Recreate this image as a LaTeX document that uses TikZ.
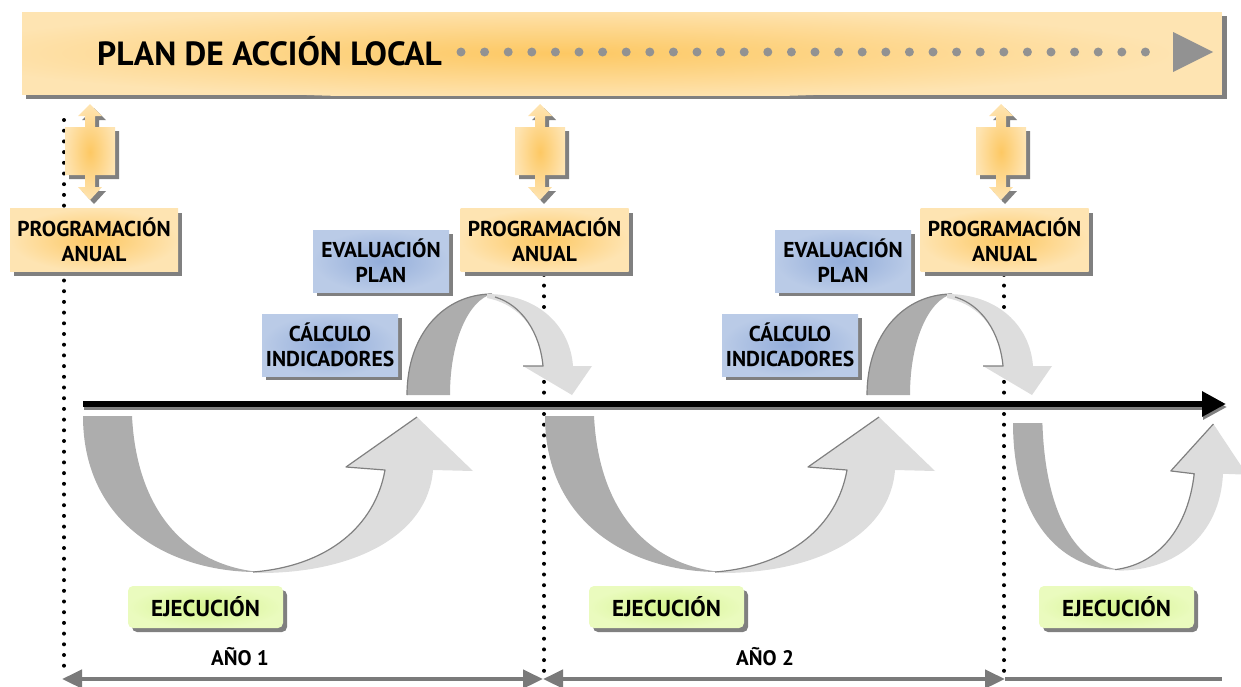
\documentclass[tikz,border=0pt]{standalone}
\usepackage{fontspec}
\setmainfont{PT Sans}
\usetikzlibrary{arrows.meta,shadows}

\definecolor{bannerlight}{HTML}{FEE4B2}
\definecolor{orangecore}{HTML}{FDC863}
\definecolor{bluelight}{HTML}{BACBE7}
\definecolor{bluecore}{HTML}{93ADDA}
\definecolor{greenlight}{HTML}{EAFBBE}
\definecolor{greencore}{HTML}{D5F48F}
\definecolor{shadowgray}{HTML}{808080}
\definecolor{ribbondark}{HTML}{ADADAD}
\definecolor{ribbonlight}{HTML}{DDDDDD}
\definecolor{dotgray}{HTML}{929292}
\definecolor{spangray}{HTML}{7A7A7A}

\tikzset{
  boxtext/.style={font=\fontsize{21.5}{25}\selectfont\bfseries, align=center, inner sep=0pt},
  boxshadow/.style={drop shadow={shadow xshift=4pt, shadow yshift=-4pt, fill=shadowgray, opacity=1}},
  progbox/.style={boxtext, boxshadow, shade, inner color=orangecore, outer color=bannerlight,
    minimum width=168pt, minimum height=63pt},
  evalbox/.style={boxtext, boxshadow, shade, inner color=bluecore, outer color=bluelight,
    minimum width=136pt, minimum height=62pt},
  ejecbox/.style={boxtext, boxshadow, shade, inner color=greencore, outer color=greenlight,
    minimum width=155pt, minimum height=42pt, rounded corners=5pt, font=\fontsize{23}{26}\selectfont\bfseries},
  yeartext/.style={boxtext, font=\fontsize{21}{24}\selectfont\bfseries},
  vdots/.style={line width=4pt, line cap=round, dash pattern=on 0pt off 10.7pt},
  spanline/.style={draw=spangray, line width=4.5pt},
  ribbonedge/.style={draw=shadowgray, line width=1.2pt},
  % lower U-shaped ribbon arrow (origin = outer top left)
  lowribbon/.pic={
    \fill[ribbondark] (0,0) -- (49,0) .. controls (54,100) and (108,150) .. (177,156)
      .. controls (90,157) and (0,110) .. (0,0) -- cycle;
    \fill[ribbonlight] (170,156) .. controls (245,150) and (292,110) .. (302,54) -- (263,51)
      -- (334,1) -- (390,55) -- (350,54) .. controls (345,120) and (270,157) .. (177,157) -- cycle;
    \draw[ribbonedge] (170,156) .. controls (245,150) and (292,110) .. (302,54) -- (263,51) -- (334,1);
  },
  % upper arc ribbon arrow (origin = outer bottom left)
  upribbon/.pic={
    \fill[ribbondark] (0,0) .. controls (0,-62) and (38,-101) .. (85,-101)
      .. controls (62,-95) and (43,-55) .. (43,0) -- cycle;
    \draw[ribbonedge] (0,0) .. controls (0,-62) and (38,-101) .. (85,-101);
    \fill[ribbonlight] (80,-101) .. controls (130,-101) and (163,-70) .. (166,-29) -- (185,-29)
      -- (165,0) -- (116,-29) -- (136,-29) .. controls (133,-62) and (115,-90) .. (80,-97) -- cycle;
    \draw[ribbonedge] (116,-29) -- (136,-29) .. controls (133,-62) and (115,-90) .. (88,-98);
  },
}

\begin{document}
\begin{tikzpicture}[x=1pt, y=-1pt, line join=round]
  \useasboundingbox (0,0) rectangle (1241,686);

  % Banner corners
  \coordinate (BA) at (22,12);
  \coordinate (BB) at (1222,95);

  % Banner with shadow and orange glow
  \fill[shadowgray] (26,16) rectangle (1227,99);
  \fill[bannerlight] (BA) rectangle (BB);
  \begin{scope}
    \clip (BA) rectangle (BB);
    \shade[inner color=orangecore, outer color=bannerlight] (560,53) ellipse [x radius=620, y radius=46];
  \end{scope}

  % Title and dotted arrow
  \node[font=\fontsize{33.5}{38}\selectfont\bfseries, anchor=west, inner sep=0pt] (title) at (97,51) {PLAN DE ACCIÓN LOCAL};
  \coordinate (dots start) at (461,52);
  \coordinate (dots end) at (1168,52);
  \draw[dotgray, line width=9pt, line cap=round, dash pattern=on 0pt off 23.6pt] (dots start) -- (dots end);
  \fill[dotgray] (1173,32) -- (1213,52) -- (1173,72) -- cycle;

  % Year boundaries (dotted)
  \coordinate (Y0 top) at (64,120);
  \coordinate (Y0 bot) at (64,676);
  \coordinate (Y1 top) at (544,200);
  \coordinate (Y1 bot) at (544,676);
  \coordinate (Y2 top) at (1004,200);
  \coordinate (Y2 bot) at (1004,676);
  \draw[vdots] (Y0 top) -- (Y0 bot);
  \draw[vdots] (Y1 top) -- (Y1 bot);
  \draw[vdots] (Y2 top) -- (Y2 bot);

  % Double arrows below the banner
  \foreach \cx in {90,540,1001} {
    \begin{scope}[shift={(\cx,0)}]
      \fill[shadowgray] (4,108) -- (16,120) -- (9,120) -- (9,131) -- (29,131) -- (29,179) -- (9,179)
        -- (9,191) -- (16,191) -- (4,204) -- (-8,191) -- (-1,191) -- (-1,179) -- (-21,179)
        -- (-21,131) -- (-1,131) -- (-1,120) -- (-8,120) -- cycle;
      \shade[inner color=orangecore, outer color=bannerlight] (0,104) -- (12,116) -- (5,116) -- (5,127)
        -- (25,127) -- (25,175) -- (5,175) -- (5,187) -- (12,187) -- (0,200) -- (-12,187) -- (-5,187)
        -- (-5,175) -- (-25,175) -- (-25,127) -- (-5,127) -- (-5,116) -- (-12,116) -- cycle;
    \end{scope}
  }

  % Programming boxes
  \node[progbox] (prog1) at (94,240) {PROGRAMACIÓN\\ANUAL};
  \node[progbox] (prog2) at (544.5,240) {PROGRAMACIÓN\\ANUAL};
  \node[progbox] (prog3) at (1004.5,240) {PROGRAMACIÓN\\ANUAL};

  % Evaluation and indicator boxes
  \node[evalbox] (eval1) at (381,261) {EVALUACIÓN\\PLAN};
  \node[evalbox] (calc1) at (330,345) {CÁLCULO\\INDICADORES};
  \node[evalbox] (eval2) at (843,261) {EVALUACIÓN\\PLAN};
  \node[evalbox] (calc2) at (790,345) {CÁLCULO\\INDICADORES};

  % Ribbon arrows
  \pic at (83,416) {lowribbon};
  \pic at (545,416) {lowribbon};
  \pic[xscale=0.6, yscale=0.94] at (1013,423) {lowribbon};
  \pic at (407,395) {upribbon};
  \pic at (867,395) {upribbon};

  % Time line
  \coordinate (T0) at (83,404);
  \coordinate (T1) at (1226,404);
  \draw[line width=6pt, shadowgray, -{Triangle[length=24pt,width=24pt]}] ([shift={(1,3)}]T0) -- ([shift={(1,3)}]T1);
  \draw[line width=6pt, -{Triangle[length=24pt,width=24pt]}] (T0) -- (T1);

  % Execution boxes
  \node[ejecbox] (ejec1) at (205.5,607) {EJECUCIÓN};
  \node[ejecbox] (ejec2) at (666.5,607) {EJECUCIÓN};
  \node[ejecbox] (ejec3) at (1116.5,607) {EJECUCIÓN};

  % Year spans
  \coordinate (S0) at (62,679);
  \coordinate (S1) at (543,679);
  \coordinate (S2) at (1005,679);
  \coordinate (S3) at (1222,679);
  \draw[spanline, {Triangle[length=20pt,width=18pt]}-{Triangle[length=20pt,width=18pt]}] (S0) -- (S1);
  \draw[spanline, {Triangle[length=20pt,width=18pt]}-{Triangle[length=20pt,width=18pt]}] (S1) -- (S2);
  \draw[spanline] (S2) -- (S3);

  % Year labels
  \node[yeartext] (year1) at (240,657) {AÑO 1};
  \node[yeartext] (year2) at (765,657) {AÑO 2};
\end{tikzpicture}
\end{document}
